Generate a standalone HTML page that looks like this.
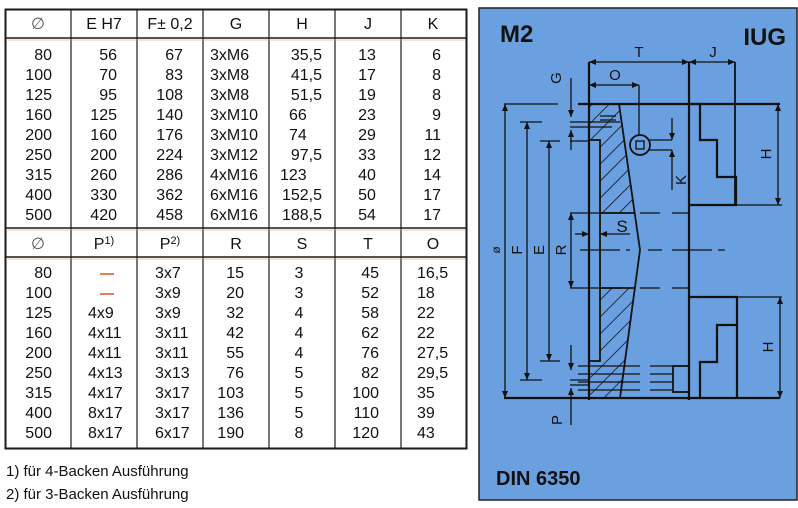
<!DOCTYPE html>
<html><head><meta charset="utf-8"><style>
html,body{margin:0;padding:0;background:#fff;width:798px;height:508px;overflow:hidden}
svg{display:block}
.t{font-family:"Liberation Sans",sans-serif;font-size:16px;fill:#111}
.b{font-family:"Liberation Sans",sans-serif;font-weight:bold;fill:#111}
.d{font-family:"Liberation Sans",sans-serif;font-size:15px;fill:#111}
</style></head><body>
<svg width="798" height="508" viewBox="0 0 798 508">
<defs>
<pattern id="h" width="12" height="12" patternUnits="userSpaceOnUse" patternTransform="rotate(45)">
<line x1="0" y1="0" x2="0" y2="12" stroke="#111" stroke-width="1.6"/></pattern>
<marker id="a" markerWidth="8" markerHeight="8" refX="7" refY="3" orient="auto-start-reverse" markerUnits="userSpaceOnUse"><path d="M0,0 L7,3 L0,6 z" fill="#111"/></marker>
</defs>
<rect width="798" height="508" fill="#fff"/>
<!-- TABLE -->
<g stroke="#1a1a1a" fill="none">
<rect x="5.5" y="9.5" width="461" height="439" stroke-width="2"/>
<line x1="5" y1="38" x2="466" y2="38" stroke-width="1.5"/>
<line x1="5" y1="228" x2="466" y2="228" stroke-width="1.5"/>
<line x1="5" y1="257" x2="466" y2="257" stroke-width="1.5"/>
<g stroke-width="1.2">
<line x1="71" y1="9" x2="71" y2="448"/><line x1="137" y1="9" x2="137" y2="448"/>
<line x1="203" y1="9" x2="203" y2="448"/><line x1="269" y1="9" x2="269" y2="448"/>
<line x1="335" y1="9" x2="335" y2="448"/><line x1="401" y1="9" x2="401" y2="448"/>
</g></g>
<g stroke="#e8a060" stroke-width="1" opacity="0.6"><line x1="6" y1="40" x2="465" y2="40"/><line x1="6" y1="230" x2="465" y2="230"/><line x1="6" y1="259" x2="465" y2="259"/></g>
<g class="t" text-anchor="middle">
<text x="38" y="29" fill="#555">∅</text><text x="104" y="29">E H7</text><text x="170" y="29">F± 0,2</text><text x="236" y="29">G</text><text x="302" y="29">H</text><text x="368" y="29">J</text><text x="433" y="29">K</text>
<text x="38" y="249" fill="#555">∅</text><text x="104" y="249">P<tspan font-size="11" dy="-5">1)</tspan></text><text x="170" y="249">P<tspan font-size="11" dy="-5">2)</tspan></text><text x="236" y="249">R</text><text x="302" y="249">S</text><text x="368" y="249">T</text><text x="433" y="249">O</text>
</g>
<g class="t">
<g text-anchor="end">
<text x="52" y="60">80</text><text x="52" y="80">100</text><text x="52" y="100">125</text><text x="52" y="120">160</text><text x="52" y="140">200</text><text x="52" y="160">250</text><text x="52" y="180">315</text><text x="52" y="200">400</text><text x="52" y="220">500</text>
<text x="117" y="60">56</text><text x="117" y="80">70</text><text x="117" y="100">95</text><text x="117" y="120">125</text><text x="117" y="140">160</text><text x="117" y="160">200</text><text x="117" y="180">260</text><text x="117" y="200">330</text><text x="117" y="220">420</text>
<text x="183" y="60">67</text><text x="183" y="80">83</text><text x="183" y="100">108</text><text x="183" y="120">140</text><text x="183" y="140">176</text><text x="183" y="160">224</text><text x="183" y="180">286</text><text x="183" y="200">362</text><text x="183" y="220">458</text>
<text x="322" y="60">35,5</text><text x="322" y="80">41,5</text><text x="322" y="100">51,5</text><text x="322" y="160">97,5</text><text x="322" y="200">152,5</text><text x="322" y="220">188,5</text>
<text x="441" y="60">6</text><text x="441" y="80">8</text><text x="441" y="100">8</text><text x="441" y="120">9</text><text x="441" y="140">11</text><text x="441" y="160">12</text><text x="441" y="180">14</text><text x="441" y="200">17</text><text x="441" y="220">17</text>
</g>
<text x="210" y="60">3xM6</text><text x="210" y="80">3xM8</text><text x="210" y="100">3xM8</text><text x="210" y="120">3xM10</text><text x="210" y="140">3xM10</text><text x="210" y="160">3xM12</text><text x="210" y="180">4xM16</text><text x="210" y="200">6xM16</text><text x="210" y="220">6xM16</text>
<text x="289" y="120">66</text><text x="289" y="140">74</text><text x="280" y="180">123</text>
<g text-anchor="middle"><text x="367" y="60">13</text><text x="367" y="80">17</text><text x="367" y="100">19</text><text x="367" y="120">23</text><text x="367" y="140">29</text><text x="367" y="160">33</text><text x="367" y="180">40</text><text x="367" y="200">50</text><text x="367" y="220">54</text></g>
<g text-anchor="end">
<text x="52" y="278">80</text><text x="52" y="298">100</text><text x="52" y="318">125</text><text x="52" y="338">160</text><text x="52" y="358">200</text><text x="52" y="378">250</text><text x="52" y="398">315</text><text x="52" y="418">400</text><text x="52" y="438">500</text>
<text x="244" y="278">15</text><text x="244" y="298">20</text><text x="244" y="318">32</text><text x="244" y="338">42</text><text x="244" y="358">55</text><text x="244" y="378">76</text><text x="244" y="398">103</text><text x="244" y="418">136</text><text x="244" y="438">190</text>
<text x="379" y="278">45</text><text x="379" y="298">52</text><text x="379" y="318">58</text><text x="379" y="338">62</text><text x="379" y="358">76</text><text x="379" y="378">82</text><text x="379" y="398">100</text><text x="379" y="418">110</text><text x="379" y="438">120</text>
</g>
<text x="88" y="318">4x9</text><text x="88" y="338">4x11</text><text x="88" y="358">4x11</text><text x="88" y="378">4x13</text><text x="88" y="398">4x17</text><text x="88" y="418">8x17</text><text x="88" y="438">8x17</text>
<text x="155" y="278">3x7</text><text x="155" y="298">3x9</text><text x="155" y="318">3x9</text><text x="155" y="338">3x11</text><text x="155" y="358">3x11</text><text x="155" y="378">3x13</text><text x="155" y="398">3x17</text><text x="155" y="418">3x17</text><text x="155" y="438">6x17</text>
<g text-anchor="middle"><text x="299" y="278">3</text><text x="299" y="298">3</text><text x="299" y="318">4</text><text x="299" y="338">4</text><text x="299" y="358">4</text><text x="299" y="378">5</text><text x="299" y="398">5</text><text x="299" y="418">5</text><text x="299" y="438">8</text></g>
<text x="417" y="278">16,5</text><text x="417" y="298">18</text><text x="417" y="318">22</text><text x="417" y="338">22</text><text x="417" y="358">27,5</text><text x="417" y="378">29,5</text><text x="417" y="398">35</text><text x="417" y="418">39</text><text x="417" y="438">43</text>
<text x="6" y="476" font-size="15">1) für 4-Backen Ausführung</text>
<text x="6" y="499" font-size="15">2) für 3-Backen Ausführung</text>
</g>
<g stroke="#d05a20" stroke-width="1.5"><line x1="100" y1="274" x2="114" y2="274"/><line x1="100" y1="294" x2="114" y2="294"/></g>
<!-- PANEL -->
<rect x="479" y="8" width="318" height="492" fill="#6a9fe0" stroke="#222" stroke-width="1.5"/>
<text class="b" x="500" y="42" font-size="24">M2</text>
<text class="b" x="786" y="45" font-size="24" text-anchor="end">IUG</text>
<text class="b" x="496" y="485" font-size="20">DIN 6350</text>
<polygon points="589,104 619,104 634.7,213 600,213 600,140 589,140" fill="url(#h)"/>
<polygon points="600,288 634.6,288 620,398 589,398 589,361 600,361" fill="url(#h)"/>
<g stroke="#111" fill="none" stroke-width="1.8">
<line x1="589" y1="62" x2="589" y2="400" stroke-width="2.2"/>
<line x1="689" y1="62" x2="689" y2="400" stroke-width="2.2"/>
<line x1="735" y1="62" x2="735" y2="205"/>
<line x1="639" y1="85" x2="639" y2="135" stroke-width="1.3"/>
<line x1="504" y1="104" x2="558" y2="104" stroke-width="1.3"/>
<line x1="578" y1="104" x2="780" y2="104" stroke-width="2.2"/>
<line x1="504" y1="398" x2="780" y2="398" stroke-width="2.2"/>
<polyline points="619,104 640,250 620,398"/>
<polyline points="589,140 600,140 600,361 589,361"/>
<line x1="600" y1="213" x2="634.7" y2="213"/>
<line x1="600" y1="288" x2="634.6" y2="288"/>
<polyline points="689,104 700,104 700,140 717,140 717,177 736,177 736,205 689,205" stroke-width="2.2"/>
<line x1="736" y1="205" x2="782" y2="205" stroke-width="1.3"/>
<polyline points="689,297 737,297 737,398" stroke-width="2.2"/>
<polyline points="737,325 717,325 717,362 700,362 700,398" stroke-width="2.2"/>
<line x1="737" y1="297" x2="782" y2="297" stroke-width="1.3"/>
<rect x="673" y="366" width="16" height="26"/>
<circle cx="640" cy="145" r="10"/><rect x="636" y="141" width="8" height="8" stroke-width="1.3"/>
</g>
<g stroke="#111" stroke-width="1.3" fill="none">
<path d="M570,213 H620 M640,213 H660 M672,213 H689" />
<path d="M570,288 H620 M640,288 H660 M672,288 H689"/>
<path d="M580,250 H630 M648,250 H662 M672,250 H725" stroke-dasharray="40,6,8,6"/>
<path d="M578,366 H640 M650,366 H673 M578,374 H640 M650,374 H673 M578,382 H640 M650,382 H673 M578,390 H640 M650,390 H673"/>
<path d="M570,122 H620 M570,127 H612 M520,122 H542 M540,141 H560 M570,141 H589 M540,361 H560 M520,380 H542 M570,380 H589 M570,385 H589"/>
<path d="M600,116 H616 M600,120 H616"/>
<path d="M648,140 H672 M648,150 H672"/>
<line x1="589" y1="62" x2="689" y2="62" marker-start="url(#a)" marker-end="url(#a)"/>
<line x1="689" y1="62" x2="735" y2="62" marker-start="url(#a)" marker-end="url(#a)"/>
<line x1="589" y1="85" x2="639" y2="85" marker-start="url(#a)" marker-end="url(#a)"/>
<line x1="505" y1="104" x2="505" y2="398" marker-start="url(#a)" marker-end="url(#a)"/>
<line x1="527" y1="122" x2="527" y2="380" marker-start="url(#a)" marker-end="url(#a)"/>
<line x1="549" y1="141" x2="549" y2="361" marker-start="url(#a)" marker-end="url(#a)"/>
<line x1="571" y1="213" x2="571" y2="288" marker-start="url(#a)" marker-end="url(#a)"/>
<line x1="778" y1="104" x2="778" y2="205" marker-start="url(#a)" marker-end="url(#a)"/>
<line x1="780" y1="297" x2="780" y2="398" marker-start="url(#a)" marker-end="url(#a)"/>
<line x1="571" y1="78" x2="571" y2="117" marker-end="url(#a)"/>
<line x1="571" y1="150" x2="571" y2="130" marker-end="url(#a)"/>
<line x1="571" y1="345" x2="571" y2="370" marker-end="url(#a)"/>
<line x1="571" y1="425" x2="571" y2="388" marker-end="url(#a)"/>
<line x1="672" y1="118" x2="672" y2="140" marker-end="url(#a)"/>
<line x1="672" y1="190" x2="672" y2="150" marker-end="url(#a)"/>
<line x1="575" y1="234" x2="589" y2="234" marker-end="url(#a)"/>
<line x1="630" y1="234" x2="600" y2="234" marker-end="url(#a)"/>
</g>
<g class="d" text-anchor="middle">
<text x="639" y="57">T</text><text x="713" y="57">J</text><text x="615" y="80">O</text>
<text x="622" y="232" font-size="17">S</text>
<text transform="translate(561,78) rotate(-90)">G</text>
<text transform="translate(562,420) rotate(-90)">P</text>
<text transform="translate(686,180) rotate(-90)">K</text>
<text transform="translate(771,154) rotate(-90)">H</text>
<text transform="translate(773,347) rotate(-90)">H</text>
<text transform="translate(500,250) rotate(-90)" font-size="12">ø</text>
<text transform="translate(522,250) rotate(-90)">F</text>
<text transform="translate(544,250) rotate(-90)">E</text>
<text transform="translate(566,250) rotate(-90)">R</text>
</g>
</svg>
</body></html>
